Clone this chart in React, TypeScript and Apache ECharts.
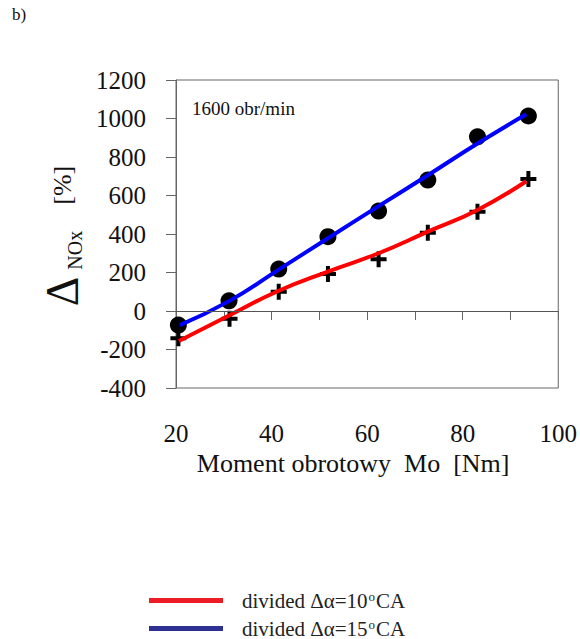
import React, { useEffect, useRef } from "react";
import * as echarts from "echarts";

// Measured points (x = moment Mo [Nm], y = ΔNOx [%])
const circleX = [20.5, 31.1, 41.5, 51.8, 62.4, 72.7, 83.1, 93.75];
const circleY = [-73, 53, 218, 386, 519, 680, 905, 1013];
const crossX = [20.5, 31.2, 41.5, 51.8, 62.4, 72.7, 83.1, 93.75];
const crossY = [-142, -40, 100, 192, 269, 407, 516, 686];

// Fitted curves
const blueFitX = [20.8, 31, 41.5, 51.8, 62.4, 72.7, 83.1, 93.3];
const blueFitY = [-73, 50, 215, 378, 545, 705, 870, 1022];
const redFitX = [20.6, 31, 41.5, 51.8, 62.4, 72.7, 83.1, 93.3];
const redFitY = [-156, -25, 105, 205, 300, 412, 525, 674];

const seriesNames = ["divided Δα=10ºCA", "divided Δα=15ºCA"];
const legendLabels = ["divided Δα=10{sup|o}CA", "divided Δα=15{sup|o}CA"];

const xTicks = { min: 20, max: 100, interval: 10 };
const yTicks = { min: -400, max: 1200, interval: 200 };

const FONT = "'Liberation Serif', 'Times New Roman', serif";

const zip = (xs: number[], ys: number[]) => xs.map((x, i) => [x, ys[i]]);

export default function App() {
  const ref = useRef<HTMLDivElement>(null);
  useEffect(() => {
    document.body.style.margin = "0";
    document.body.style.overflow = "hidden";
    if (!ref.current) return;
    const chart = echarts.init(ref.current, null, { renderer: "svg" });
    const plus = "path://M6,0H10V6H16V10H10V16H6V10H0V6H6Z";
    chart.setOption({
      animation: false,
      backgroundColor: "#ffffff",
      grid: {
        left: 176,
        right: 20,
        top: 80,
        bottom: 251,
        show: true,
        borderColor: "#666",
        borderWidth: 1,
        backgroundColor: "transparent",
      },
      legend: {
        orient: "vertical",
        left: 144,
        top: 585,
        height: 120,
        itemWidth: 74,
        itemHeight: 5,
        itemGap: 7,
        icon: "rect",
        data: [
          { name: seriesNames[0], itemStyle: { color: "#ED1C24" } },
          { name: seriesNames[1], itemStyle: { color: "#2E3192" } },
        ],
        formatter: (name: string) => legendLabels[seriesNames.indexOf(name)],
        textStyle: {
          fontFamily: FONT,
          fontSize: 21,
          color: "#222",
          padding: [0, 0, 0, 14],
          rich: {
            sup: { fontFamily: FONT, fontSize: 13, verticalAlign: "top", padding: [0, 1, 8, 1], color: "#222" },
          },
        },
      },
      xAxis: {
        type: "value",
        min: xTicks.min,
        max: xTicks.max,
        interval: xTicks.interval,
        name: "Moment obrotowy  Mo  [Nm]",
        nameLocation: "middle",
        nameGap: 62,
        nameTextStyle: {
          fontFamily: FONT,
          fontSize: 26,
          color: "#111",
          padding: [0, 28, 0, 0],
        },
        axisLine: { show: true, lineStyle: { color: "#666", width: 1 } },
        axisTick: { show: true, inside: false, length: 9, lineStyle: { color: "#666" } },
        axisLabel: {
          margin: 33,
          fontFamily: FONT,
          fontSize: 25,
          color: "#111",
          formatter: (v: number) => (v % 20 === 0 ? String(v) : ""),
        },
        splitLine: { show: false },
      },
      yAxis: {
        type: "value",
        min: yTicks.min,
        max: yTicks.max,
        interval: yTicks.interval,
        name: "{d|Δ}{s|NOx}    [%]",
        nameLocation: "middle",
        nameRotate: 90,
        nameGap: 89,
        nameTextStyle: {
          fontFamily: FONT,
          fontSize: 26,
          color: "#111",
          padding: [0, 4, 0, 0],
          rich: {
            d: { fontFamily: FONT, fontSize: 46, color: "#111", verticalAlign: "bottom" },
            s: { fontFamily: FONT, fontSize: 20, color: "#111", verticalAlign: "bottom", padding: [0, 0, 0, 7] },
          },
        },
        axisLine: { show: true, lineStyle: { color: "#666", width: 1 } },
        axisTick: { show: true, inside: false, length: 10, lineStyle: { color: "#666" } },
        axisLabel: {
          margin: 30,
          fontFamily: FONT,
          fontSize: 25,
          color: "#111",
          formatter: (v: number) => String(v),
        },
        splitLine: { show: false },
      },
      graphic: [
        {
          type: "text",
          left: 12,
          top: 6,
          style: { text: "b)", fontFamily: FONT, fontSize: 17, fill: "#111" },
        },
        {
          type: "text",
          left: 192,
          top: 99,
          style: { text: "1600 obr/min", fontFamily: FONT, fontSize: 19, fill: "#111" },
        },
      ],
      series: [
        {
          name: seriesNames[0],
          type: "line",
          smooth: true,
          showSymbol: false,
          symbol: "none",
          data: zip(redFitX, redFitY),
          lineStyle: { color: "#ff0000", width: 4 },
          itemStyle: { color: "#ff0000" },
          z: 3,
          markLine: {
            silent: true,
            symbol: "none",
            label: { show: false },
            lineStyle: { color: "#555", width: 1, type: "solid" },
            data: [{ yAxis: 0 }],
          },
        },
        {
          name: seriesNames[1],
          type: "line",
          smooth: true,
          showSymbol: false,
          symbol: "none",
          data: zip(blueFitX, blueFitY),
          lineStyle: { color: "#0000ff", width: 4 },
          itemStyle: { color: "#0000ff" },
          z: 3,
        },
        {
          name: "pts15",
          type: "scatter",
          symbol: "circle",
          symbolSize: 17,
          data: zip(circleX, circleY),
          itemStyle: { color: "#000", opacity: 1 },
          z: 2,
        },
        {
          name: "pts10",
          type: "scatter",
          symbol: plus,
          symbolSize: 16,
          data: zip(crossX, crossY),
          itemStyle: { color: "#000", opacity: 1 },
          z: 2,
        },
      ],
    });
    return () => chart.dispose();
  }, []);
  return <div ref={ref} style={{ width: 580, height: 639 }} />;
}
